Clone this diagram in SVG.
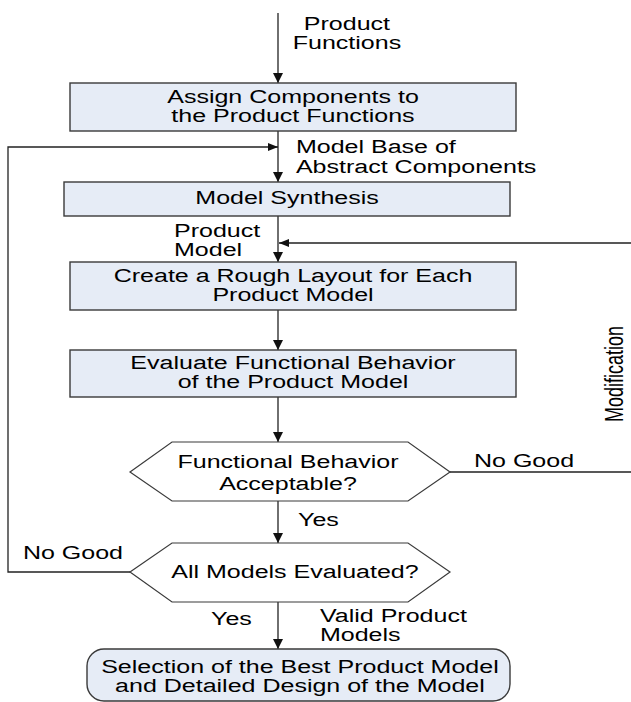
<svg xmlns="http://www.w3.org/2000/svg" width="631" height="702" viewBox="0 0 631 702">
<style>
.box{fill:#e6ecf6;stroke:#3a3a3a;stroke-width:1.4}
.ln{fill:none;stroke:#222;stroke-width:1.3}
text{font-family:"Liberation Sans",Arial,sans-serif;font-size:18px;fill:#000}
.c{text-anchor:middle}
</style>
<defs>
<marker id="ah" markerUnits="userSpaceOnUse" markerWidth="11" markerHeight="10" refX="10" refY="5" orient="auto">
<path d="M0,0 L10,5 L0,10 z" fill="#111"/>
</marker>
<marker id="ahs" markerUnits="userSpaceOnUse" markerWidth="11" markerHeight="8" refX="10" refY="4" orient="auto">
<path d="M0,0 L10,4 L0,8 z" fill="#111"/>
</marker>
</defs>
<g id="connectors">
<line class="ln" x1="278" y1="13" x2="278" y2="83" marker-end="url(#ah)"/>
<line class="ln" x1="278" y1="131" x2="278" y2="182" marker-end="url(#ah)"/>
<line class="ln" x1="278" y1="216" x2="278" y2="262" marker-end="url(#ah)"/>
<line class="ln" x1="278" y1="310" x2="278" y2="350" marker-end="url(#ah)"/>
<line class="ln" x1="278" y1="397" x2="278" y2="442" marker-end="url(#ah)"/>
<line class="ln" x1="278" y1="501" x2="278" y2="543" marker-end="url(#ah)"/>
<line class="ln" x1="278" y1="602" x2="278" y2="649" marker-end="url(#ah)"/>
<path class="ln" d="M130,572 H8 V147 H278" marker-end="url(#ahs)"/>
<path class="ln" d="M450,472 H640 V243 H279" marker-end="url(#ahs)"/>
</g>
<g id="n1"><rect class="box" x="70" y="83" width="446" height="48"/></g>
<g id="n2"><rect class="box" x="64" y="182" width="446" height="34"/></g>
<g id="n3"><rect class="box" x="70" y="262" width="446" height="48"/></g>
<g id="n4"><rect class="box" x="70" y="350" width="446" height="47"/></g>
<g id="d1"><polygon points="130,472 172,442 408,442 450,472 408,501 172,501" fill="#fff" stroke="#3a3a3a" stroke-width="1.2"/></g>
<g id="d2"><polygon points="130,572 172,543 408,543 450,572 408,602 172,602" fill="#fff" stroke="#3a3a3a" stroke-width="1.2"/></g>
<g id="n5"><rect class="box" x="87" y="649" width="423" height="52" rx="17" ry="17"/></g>
<g id="labels" transform="scale(1.39,1)">
<text class="c" x="249.6" y="30">Product</text>
<text class="c" x="249.6" y="49">Functions</text>
<text class="c" x="210.8" y="103">Assign Components to</text>
<text class="c" x="210.8" y="122">the Product Functions</text>
<text x="212.9" y="153">Model Base of</text>
<text x="212.9" y="173">Abstract Components</text>
<text class="c" x="206.5" y="204">Model Synthesis</text>
<text x="125.2" y="237">Product</text>
<text x="125.2" y="256">Model</text>
<text class="c" x="210.8" y="282">Create a Rough Layout for Each</text>
<text class="c" x="210.8" y="301">Product Model</text>
<text class="c" x="210.8" y="369">Evaluate Functional Behavior</text>
<text class="c" x="210.8" y="388">of the Product Model</text>
<text class="c" transform="translate(448,374) rotate(-90)" x="0" y="0">Modification</text>
<text class="c" x="207.2" y="468">Functional Behavior</text>
<text class="c" x="207.2" y="490">Acceptable?</text>
<text x="341" y="467">No Good</text>
<text x="214.4" y="526">Yes</text>
<text x="16.5" y="559">No Good</text>
<text class="c" x="212.2" y="578">All Models Evaluated?</text>
<text x="151.8" y="625">Yes</text>
<text x="230.2" y="622">Valid Product</text>
<text x="230.2" y="641">Models</text>
<text class="c" x="215.8" y="673">Selection of the Best Product Model</text>
<text class="c" x="215.8" y="692">and Detailed Design of the Model</text>
</g>
</svg>
